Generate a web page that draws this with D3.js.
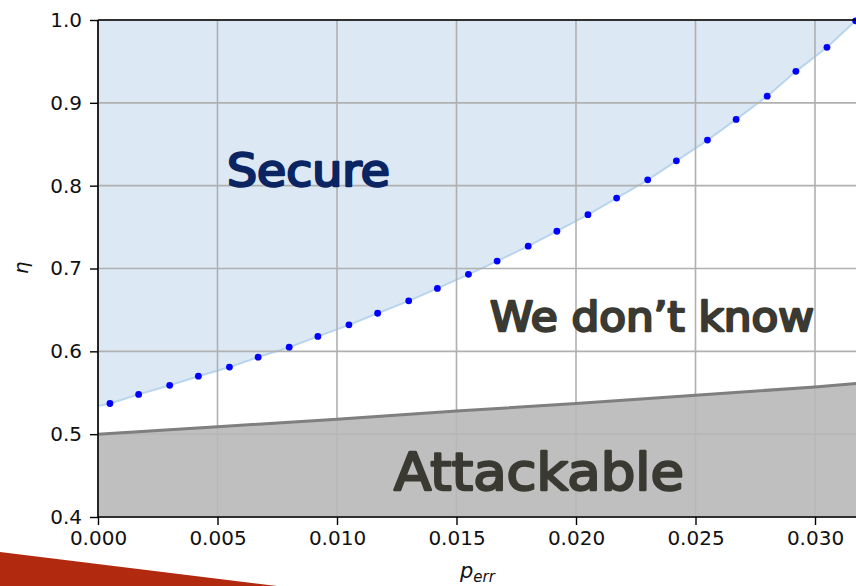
<!DOCTYPE html>
<html>
<head>
<meta charset="utf-8">
<script src="https://cdn.jsdelivr.net/npm/d3@7"></script>
<style>
  html, body { margin: 0; padding: 0; background: #fff; }
  svg { display: block; }
</style>
</head>
<body>
<svg id="chart" width="856" height="586"></svg>
<script>
// secure boundary (dots)
let p_dots = [0.0005, 0.0017, 0.0030, 0.0042, 0.0055, 0.0067, 0.0080, 0.0092, 0.0105, 0.0117,
              0.0130, 0.0142, 0.0155, 0.0167, 0.0180, 0.0192, 0.0205, 0.0217, 0.0230, 0.0242,
              0.0255, 0.0267, 0.0280, 0.0292, 0.0305, 0.0317];
let eta_dots = [0.537, 0.548, 0.559, 0.570, 0.581, 0.593, 0.605, 0.618, 0.632, 0.646,
                0.661, 0.676, 0.693, 0.709, 0.727, 0.745, 0.765, 0.785, 0.807, 0.830,
                0.855, 0.880, 0.908, 0.938, 0.967, 0.999];
// light blue boundary starts at p = 0
let p_secure_start = 0;
let eta_secure_start = 0.534;

// attackable boundary
let p_attack = [0, 0.005, 0.010, 0.015, 0.020, 0.025, 0.030, 0.0325];
let eta_attack = [0.500, 0.509, 0.518, 0.528, 0.537, 0.547, 0.557, 0.563];

let x_ticks = [0, 0.005, 0.010, 0.015, 0.020, 0.025, 0.030];
let y_ticks = [0.4, 0.5, 0.6, 0.7, 0.8, 0.9, 1.0];

let svg = d3.select("#chart");

let x = d3.scaleLinear().domain([0, 0.0325]).range([98, 874.75]);
let y = d3.scaleLinear().domain([0.4, 1.0]).range([517, 20]);

let secure = [{p: p_secure_start, eta: eta_secure_start}]
    .concat(p_dots.map((p, i) => ({p: p, eta: eta_dots[i]})));
let attack = p_attack.map((p, i) => ({p: p, eta: eta_attack[i]}));

// secure area
svg.append("path")
    .datum(secure)
    .attr("d", d3.area().x(d => x(d.p)).y0(y(1.0)).y1(d => y(d.eta)))
    .attr("fill", "#dce9f5");
svg.append("path")
    .datum(secure)
    .attr("d", d3.line().x(d => x(d.p)).y(d => y(d.eta)))
    .attr("fill", "none")
    .attr("stroke", "#b8d5ec")
    .attr("stroke-width", 2);

// grid
let grid = svg.append("g").attr("stroke", "#b0b0b0").attr("stroke-width", 1.6);
grid.selectAll(".gx").data(x_ticks).enter().append("line")
    .attr("x1", d => x(d)).attr("x2", d => x(d))
    .attr("y1", y(0.4)).attr("y2", y(1.0));
grid.selectAll(".gy").data(y_ticks).enter().append("line")
    .attr("x1", x(0)).attr("x2", 856)
    .attr("y1", d => y(d)).attr("y2", d => y(d));

// attackable area
svg.append("path")
    .datum(attack)
    .attr("d", d3.area().x(d => x(d.p)).y0(y(0.4)).y1(d => y(d.eta)))
    .attr("fill", "#b8b8b8")
    .attr("fill-opacity", 0.9);
svg.append("path")
    .datum(attack)
    .attr("d", d3.line().x(d => x(d.p)).y(d => y(d.eta)))
    .attr("fill", "none")
    .attr("stroke", "#7f7f7f")
    .attr("stroke-width", 3);

// dots
svg.selectAll(".dot").data(secure.slice(1)).enter().append("circle")
    .attr("cx", d => x(d.p))
    .attr("cy", d => y(d.eta))
    .attr("r", 3.4)
    .attr("fill", "#0000ff");

// spines
svg.append("line").attr("x1", x(0)).attr("x2", x(0)).attr("y1", y(0.4)).attr("y2", y(1.0))
    .attr("stroke", "#000").attr("stroke-width", 1.6);
svg.append("line").attr("x1", x(0)).attr("x2", 856).attr("y1", y(0.4)).attr("y2", y(0.4))
    .attr("stroke", "#000").attr("stroke-width", 1.6);
svg.append("line").attr("x1", x(0)).attr("x2", 856).attr("y1", y(1.0)).attr("y2", y(1.0))
    .attr("stroke", "#000").attr("stroke-width", 1.6);

// axes
let xAxis = d3.axisBottom(x).tickValues(x_ticks).tickFormat(d3.format(".3f"))
    .tickSize(8).tickPadding(6);
let yAxis = d3.axisLeft(y).tickValues(y_ticks).tickFormat(d3.format(".1f"))
    .tickSize(8).tickPadding(8);

let gx = svg.append("g").attr("transform", "translate(0," + y(0.4) + ")").call(xAxis);
let gy = svg.append("g").attr("transform", "translate(" + x(0) + ",0)").call(yAxis);
[gx, gy].forEach(g => {
    g.select(".domain").remove();
    g.selectAll(".tick line").attr("stroke", "#000").attr("stroke-width", 1.4);
    g.selectAll(".tick text").attr("fill", "#111")
        .style("font-family", "DejaVu Sans").style("font-size", "20px");
});

// axis labels
svg.append("text")
    .attr("transform", "translate(28,268) rotate(-90)")
    .attr("text-anchor", "middle")
    .style("font-family", "DejaVu Sans").style("font-style", "italic").style("font-size", "20px")
    .attr("fill", "#111")
    .text("η");
let xl = svg.append("text")
    .attr("x", 460).attr("y", 578)
    .style("font-family", "DejaVu Sans").style("font-style", "italic").style("font-size", "21px")
    .attr("fill", "#111");
xl.append("tspan").text("p");
xl.append("tspan").attr("dy", 4).style("font-size", "15px").text("err");

// region labels
function label(txt, x0, base, len, size, color){
    svg.append("text")
        .attr("x", x0).attr("y", base)
        .attr("textLength", len).attr("lengthAdjust", "spacingAndGlyphs")
        .style("font-family", "DejaVu Sans")
        .style("font-size", size + "px")
        .attr("fill", color)
        .attr("stroke", color).attr("stroke-width", 2.4).attr("stroke-linejoin", "round")
        .attr("stroke-linecap", "round")
        .text(txt);
}
label("Secure", 227, 186, 163, 44, "#0b2462");
label("We don’t know", 490, 331, 324, 40, "#3a3a33");
label("Attackable", 394, 490, 290, 52, "#3a3a33");

// red corner decoration
svg.append("polygon")
    .attr("points", "0,552 277,586 0,586")
    .attr("fill", "#b12a10");
</script>
</body>
</html>
